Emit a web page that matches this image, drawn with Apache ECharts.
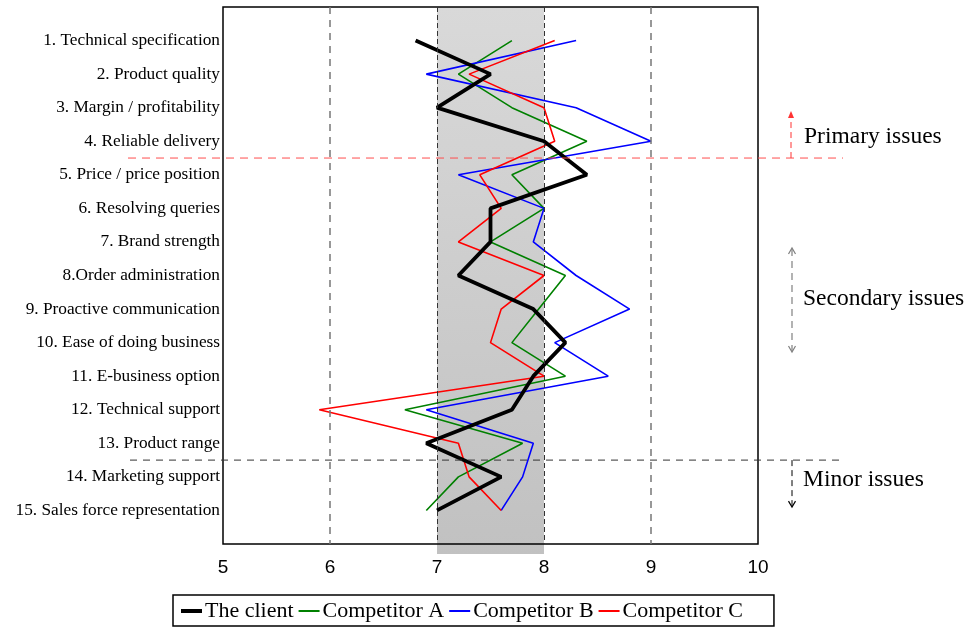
<!DOCTYPE html>
<html>
<head>
<meta charset="utf-8">
<script src="https://cdn.jsdelivr.net/npm/echarts@6/dist/echarts.min.js"></script>
<style>
html, body { margin: 0; padding: 0; background: #fff; }
#chart { width: 965px; height: 628px; }
</style>
</head>
<body>
<div id="chart"></div>
<script>
var issues = [
	'1. Technical specification',
	'2. Product quality',
	'3. Margin / profitability',
	'4. Reliable delivery',
	'5. Price / price position',
	'6. Resolving queries',
	'7. Brand strength',
	'8.Order administration',
	'9. Proactive communication',
	'10. Ease of doing business',
	'11. E-business option',
	'12. Technical support',
	'13. Product range',
	'14. Marketing support',
	'15. Sales force representation'
];
var rank = [1, 2, 3, 4, 5, 6, 7, 8, 9, 10, 11, 12, 13, 14, 15];
var client = [6.8, 7.5, 7.0, 8.0, 8.4, 7.5, 7.5, 7.2, 7.9, 8.2, 7.9, 7.7, 6.9, 7.6, 7.0];
var compA = [7.7, 7.2, 7.7, 8.4, 7.7, 8.0, 7.5, 8.2, 7.95, 7.7, 8.2, 6.7, 7.8, 7.2, 6.9];
var compB = [8.3, 6.9, 8.3, 9.0, 7.2, 8.0, 7.9, 8.3, 8.8, 8.1, 8.6, 6.9, 7.9, 7.8, 7.6];
var compC = [8.1, 7.3, 8.0, 8.1, 7.4, 7.6, 7.2, 8.0, 7.6, 7.5, 8.0, 5.9, 7.2, 7.3, 7.6];
var xTicks = [5, 6, 7, 8, 9, 10];
var seriesNames = ['The client', 'Competitor A', 'Competitor B', 'Competitor C'];

var serif = 'Liberation Serif';

function pairs(values) {
	var out = [];
	for (var i = 0; i < values.length; i++) {
		out.push([values[i], rank[i]]);
	}
	return out;
}

function lineSeries(name, values, color, width, z) {
	return {
		name: name,
		type: 'line',
		data: pairs(values),
		symbol: 'none',
		lineStyle: { color: color, width: width },
		itemStyle: { color: color },
		z: z,
		animation: false
	};
}

var chart = echarts.init(document.getElementById('chart'));
var option = {
	animation: false,
	grid: {
		left: 223, top: 7, width: 535, height: 537,
		show: true, borderColor: '#000', borderWidth: 1.5,
		backgroundColor: 'transparent', z: 3
	},
	legend: {
		data: [
			{ name: seriesNames[0], lineStyle: { width: 4 } },
			{ name: seriesNames[1], lineStyle: { width: 2 } },
			{ name: seriesNames[2], lineStyle: { width: 2 } },
			{ name: seriesNames[3], lineStyle: { width: 2 } }
		],
		left: 173, top: 595,
		padding: [5, 31, 4, 6],
		itemWidth: 21, itemHeight: 12, itemGap: 4,
		borderColor: '#000', borderWidth: 1.5,
		itemStyle: { opacity: 0 },
		textStyle: { fontFamily: serif, fontSize: 22, color: '#000', padding: [0, 0, 0, -2] }
	},
	xAxis: {
		type: 'value',
		min: xTicks[0], max: xTicks[xTicks.length - 1], interval: 1,
		axisLine: { show: false },
		axisTick: { show: false },
		splitLine: { show: false },
		axisLabel: { fontFamily: 'Liberation Sans', fontSize: 19, color: '#000', margin: 14 }
	},
	yAxis: {
		type: 'value',
		inverse: true,
		min: 0, max: 16, interval: 1,
		axisLine: { show: false },
		axisTick: { show: false },
		splitLine: { show: false },
		axisLabel: {
			fontFamily: serif, fontSize: 17.3, color: '#000', margin: 3,
			formatter: function(v) {
				return (v >= 1 && v <= 15) ? issues[v - 1] : '';
			}
		}
	},
	series: [
		{
			name: 'guides',
			type: 'line',
			data: [],
			z: 1,
			markLine: {
				silent: true,
				symbol: ['none', 'none'],
				label: { show: false },
				animation: false,
				data: [
					{ xAxis: 6, lineStyle: { color: '#777', type: [7, 6], width: 1.5 } },
					{ xAxis: 7, lineStyle: { color: '#333', type: [5, 3], width: 1 } },
					{ xAxis: 8, lineStyle: { color: '#333', type: [5, 3], width: 1 } },
					{ xAxis: 9, lineStyle: { color: '#777', type: [7, 6], width: 1.5 } }
				]
			}
		},
		lineSeries(seriesNames[1], compA, '#008000', 1.6, 2),
		lineSeries(seriesNames[2], compB, '#0000ff', 1.6, 2),
		lineSeries(seriesNames[3], compC, '#ff0000', 1.6, 2),
		lineSeries(seriesNames[0], client, '#000000', 3.8, 2)
	]
};
chart.setOption(option);

// band between 7 and 8 and the issue annotations
var topLeft = chart.convertToPixel({ gridIndex: 0 }, [7, 0]);
var botRight = chart.convertToPixel({ gridIndex: 0 }, [8, 16]);
var gridL = chart.convertToPixel({ gridIndex: 0 }, [5, 0])[0];
var gridR = chart.convertToPixel({ gridIndex: 0 }, [10, 0])[0];
var yPrimary = chart.convertToPixel({ gridIndex: 0 }, [5, 4.5])[1];
var yMinor = chart.convertToPixel({ gridIndex: 0 }, [5, 13.5])[1];
var ax = gridR + 33;

chart.setOption({
	graphic: [
		{
			type: 'rect', z: 0,
			shape: { x: topLeft[0], y: topLeft[1], width: botRight[0] - topLeft[0], height: botRight[1] - topLeft[1] + 10 },
			style: {
				fill: new echarts.graphic.LinearGradient(0, 0, 0, 1, [
					{ offset: 0, color: '#d9d9d9' },
					{ offset: 1, color: '#c1c1c1' }
				])
			}
		},
		{
			type: 'line', z: 5,
			shape: { x1: gridL - 95, y1: yPrimary, x2: gridR + 85, y2: yPrimary },
			style: { stroke: '#ff4d4d', lineWidth: 1, lineDash: [8, 6] }
		},
		{
			type: 'line', z: 5,
			shape: { x1: gridL - 93, y1: yMinor, x2: gridR + 82, y2: yMinor },
			style: { stroke: '#333', lineWidth: 1, lineDash: [7, 6] }
		},
		{
			type: 'line', z: 5,
			shape: { x1: ax, y1: yPrimary, x2: ax, y2: yPrimary - 44 },
			style: { stroke: '#ff3333', lineWidth: 1, lineDash: [6, 4] }
		},
		{
			type: 'polygon', z: 5,
			shape: { points: [[ax, yPrimary - 47], [ax - 3, yPrimary - 40], [ax + 3, yPrimary - 40]] },
			style: { fill: '#ff3333' }
		},
		{
			type: 'text', z: 5, x: ax + 13, y: yPrimary - 21,
			style: { text: 'Primary issues', font: '23.5px "Liberation Serif"', fill: '#000', verticalAlign: 'middle' }
		},
		{
			type: 'line', z: 5,
			shape: { x1: ax + 1, y1: 249, x2: ax + 1, y2: 351 },
			style: { stroke: '#808080', lineWidth: 1.2, lineDash: [7, 5] }
		},
		{
			type: 'polyline', z: 5,
			shape: { points: [[ax - 2.5, 254], [ax + 1, 248], [ax + 4.5, 254]] },
			style: { stroke: '#808080', lineWidth: 1.2, fill: null }
		},
		{
			type: 'polyline', z: 5,
			shape: { points: [[ax - 2.5, 346], [ax + 1, 352], [ax + 4.5, 346]] },
			style: { stroke: '#808080', lineWidth: 1.2, fill: null }
		},
		{
			type: 'text', z: 5, x: ax + 12, y: 299,
			style: { text: 'Secondary issues', font: '23.5px "Liberation Serif"', fill: '#000', verticalAlign: 'middle' }
		},
		{
			type: 'line', z: 5,
			shape: { x1: ax + 1, y1: yMinor, x2: ax + 1, y2: yMinor + 47 },
			style: { stroke: '#000', lineWidth: 1, lineDash: [6, 4] }
		},
		{
			type: 'polyline', z: 5,
			shape: { points: [[ax - 2.5, yMinor + 41], [ax + 1, yMinor + 47], [ax + 4.5, yMinor + 41]] },
			style: { stroke: '#000', lineWidth: 1.2, fill: null }
		},
		{
			type: 'text', z: 5, x: ax + 12, y: yMinor + 20,
			style: { text: 'Minor issues', font: '23.5px "Liberation Serif"', fill: '#000', verticalAlign: 'middle' }
		}
	]
});
</script>
</body>
</html>
